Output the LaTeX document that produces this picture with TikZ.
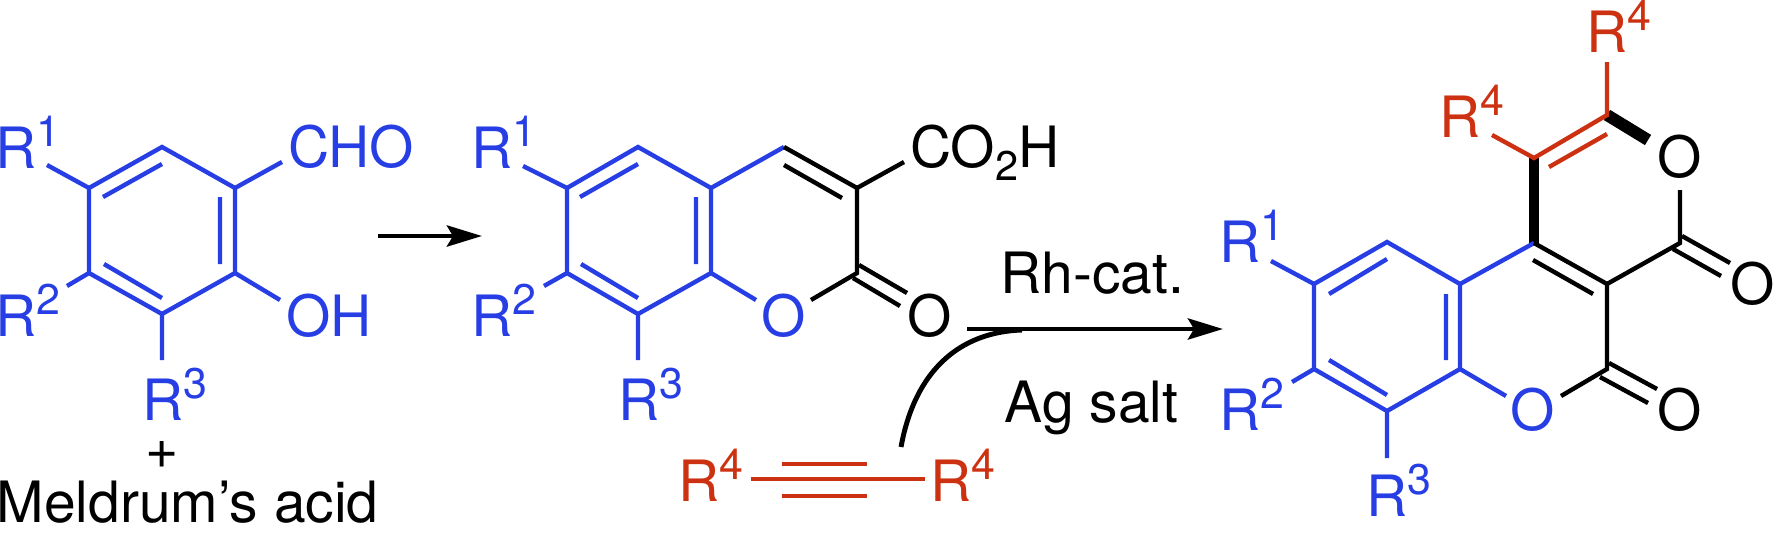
\documentclass[tikz,border=0pt]{standalone}
\usepackage{fontspec}
\setmainfont{TeX Gyre Heros}
\usetikzlibrary{arrows.meta}
\definecolor{ringblue}{RGB}{38,62,228}
\definecolor{alkynered}{RGB}{204,50,18}
\newcommand{\Rsub}[1]{R\raisebox{6.2pt}{\fontsize{12.2}{12}\selectfont #1}}
\tikzset{
	atom/.style = {anchor=base west, inner sep=0pt, font=\fontsize{16.2}{18}\selectfont},
	atomc/.style = {atom, anchor=base},
	bond/.style = {line width=1.25pt, line join=miter},
	rxn/.style = {line width=1.4pt, -{Stealth[length=3.5mm, width=2.1mm, inset=.6mm]}},
}
\begin{document}
\begin{tikzpicture}[x=0.01cm, y=-0.01cm]
		\useasboundingbox (0, 0) rectangle (1774, 533);
		\coordinate (a1) at (162, 147); \coordinate (a2) at (235, 188);
		\coordinate (a3) at (235, 273); \coordinate (a4) at (162, 314);
		\coordinate (a5) at (89, 273);  \coordinate (a6) at (89, 188);
		\coordinate (ar1) at (47, 165);  \coordinate (ar2) at (67, 286);
		\coordinate (ar3) at (162, 360); \coordinate (acho) at (282, 162);
		\coordinate (aoh) at (280, 300);
		\coordinate (ai1) at (103, 197); \coordinate (ai2) at (162, 164);
		\coordinate (ai3) at (220, 197); \coordinate (ai4) at (220, 264);
		\coordinate (ai5) at (104, 264); \coordinate (ai6) at (162, 298);
		\begin{scope}[ringblue]
			\draw[bond] (a1) -- (a2) -- (a3) -- (a4) -- (a5) -- (a6) -- cycle;
			\draw[bond] (a6) -- (ar1) (a5) -- (ar2) (a4) -- (ar3);
			\draw[bond] (a2) -- (acho) (a3) -- (aoh);
			\draw[bond] (ai1) -- (ai2) (ai3) -- (ai4) (ai5) -- (ai6);
			\node (aR1) [atom] at (-5, 168) {\Rsub{1}};
			\node (aR2) [atom] at (-5, 336) {\Rsub{2}};
			\node (aR3) [atom] at (142, 420) {\Rsub{3}};
			\node (aCHO) [atom] at (287.5, 167) {CHO};
			\node (aOH) [atom] at (285.5, 336) {OH};
		\end{scope}
		\node (plus) [atomc] at (162, 468) {+};
		\node (meldrum) [atom] at (-4, 522) {Meldrum’s acid};
		\coordinate (arrA) at (378, 236); \coordinate (arrB) at (482, 236);
		\draw[rxn] (arrA) -- (arrB);

		\coordinate (b1) at (638, 147); \coordinate (b2) at (711, 188);
		\coordinate (b3) at (711, 273); \coordinate (b4) at (638, 314);
		\coordinate (b5) at (567, 273); \coordinate (b6) at (567, 188);
		\coordinate (b7) at (784, 147); \coordinate (b8) at (857, 188);
		\coordinate (b9) at (857, 273);
		\coordinate (br1) at (523, 166); \coordinate (br2) at (544, 286);
		\coordinate (br3) at (638, 360); \coordinate (bo1) at (756, 300);
		\coordinate (bo2) at (811, 300); \coordinate (bco) at (904, 162);
		\coordinate (bi1) at (580, 197); \coordinate (bi2) at (638, 164);
		\coordinate (bi3) at (696, 197); \coordinate (bi4) at (696, 264);
		\coordinate (bi5) at (581, 264); \coordinate (bi6) at (638, 298);
		\coordinate (bi7) at (784, 165); \coordinate (bi8) at (842, 198);
		\coordinate (bd1) at (859, 265); \coordinate (bd2) at (907, 293);
		\coordinate (bd3) at (853, 278); \coordinate (bd4) at (900, 306);
		\begin{scope}[ringblue]
			\draw[bond] (b7) -- (b2) -- (b1) -- (b6) -- (b5) -- (b4) -- (b3) -- (b2);
			\draw[bond] (b6) -- (br1) (b5) -- (br2) (b4) -- (br3);
			\draw[bond] (b3) -- (bo1);
			\draw[bond] (bi1) -- (bi2) (bi3) -- (bi4) (bi5) -- (bi6);
			\node (bR1) [atom] at (471, 168) {\Rsub{1}};
			\node (bR2) [atom] at (471, 336) {\Rsub{2}};
			\node (bR3) [atom] at (618, 420) {\Rsub{3}};
			\node (bO1) [atomc] at (784, 336) {O};
		\end{scope}
		\draw[bond] (b7) -- (b8) -- (b9) -- (bo2);
		\draw[bond] (b8) -- (bco) (bi7) -- (bi8);
		\draw[bond] (bd1) -- (bd2) (bd3) -- (bd4);
		\node (bCO2H) [atom] at (909.5, 167) {CO\raisebox{-3.8pt}{\fontsize{11.8}{12}\selectfont 2}H};
		\node (bO2) [atom] at (906.5, 336) {O};

		\begin{scope}[alkynered]
			\node (dR1) [atom] at (678, 501) {\Rsub{4}};
			\node (dR2) [atom] at (930, 501) {\Rsub{4}};
			\coordinate (d1) at (751, 479); \coordinate (d2) at (925, 479);
			\coordinate (d3) at (782, 464); \coordinate (d4) at (867, 464);
			\coordinate (d5) at (782, 496); \coordinate (d6) at (867, 496);
			\draw[bond] (d1) -- (d2) (d3) -- (d4) (d5) -- (d6);
		\end{scope}
		\coordinate (arrC) at (967, 329); \coordinate (arrD) at (1223, 329);
		\coordinate (arrE) at (901, 447); \coordinate (arrF) at (1022, 330);
		\draw[rxn] (arrC) -- (arrD);
		\draw[rxn, -] (arrE) .. controls (915, 370) and (960, 332) .. (arrF);
		\node (rh) [atom] at (1000, 293) {Rh-cat.};
		\node (ag) [atom] at (1004, 422) {Ag salt};

		\coordinate (c1) at (1387, 242); \coordinate (c2) at (1460, 284);
		\coordinate (c3) at (1460, 369); \coordinate (c4) at (1387, 411);
		\coordinate (c5) at (1314, 369); \coordinate (c6) at (1314, 284);
		\coordinate (c7) at (1534, 243); \coordinate (c8) at (1607, 284);
		\coordinate (c9) at (1607, 369); \coordinate (c10) at (1534, 158);
		\coordinate (c11) at (1607, 115); \coordinate (c12) at (1680, 243);
		\coordinate (cr1) at (1271, 261); \coordinate (cr2) at (1292, 382);
		\coordinate (cr3) at (1387, 458); \coordinate (cr4) at (1492, 135);
		\coordinate (cr5) at (1607, 62);
		\coordinate (co1) at (1506, 396); \coordinate (co2) at (1561, 396);
		\coordinate (co3) at (1680, 190); \coordinate (co4) at (1648, 140);
		\coordinate (ci1) at (1329, 294); \coordinate (ci2) at (1387, 259);
		\coordinate (ci3) at (1446, 294); \coordinate (ci4) at (1446, 360);
		\coordinate (ci5) at (1329, 360); \coordinate (ci6) at (1387, 395);
		\coordinate (ci7) at (1533, 260); \coordinate (ci8) at (1593, 294);
		\coordinate (ci9) at (1549, 167); \coordinate (ci10) at (1607, 134);
		\coordinate (cd1) at (1609, 363); \coordinate (cd2) at (1657, 389);
		\coordinate (cd3) at (1600, 377); \coordinate (cd4) at (1648, 403);
		\coordinate (cd5) at (1682, 236); \coordinate (cd6) at (1730, 263);
		\coordinate (cd7) at (1673, 249); \coordinate (cd8) at (1721, 276);
		\draw[line width=2.9pt] (c7) -- (c10);
		\draw[line width=3.4pt] (c11) -- (co4);
		\begin{scope}[ringblue]
			\draw[bond] (c7) -- (c2) -- (c1) -- (c6) -- (c5) -- (c4) -- (c3) -- (c2);
			\draw[bond] (c6) -- (cr1) (c5) -- (cr2) (c4) -- (cr3);
			\draw[bond] (c3) -- (co1);
			\draw[bond] (ci1) -- (ci2) (ci3) -- (ci4) (ci5) -- (ci6);
			\node (cR1) [atom] at (1219, 262) {\Rsub{1}};
			\node (cR2) [atom] at (1219, 430) {\Rsub{2}};
			\node (cR3) [atom] at (1366, 516) {\Rsub{3}};
			\node (cO1) [atomc] at (1533, 430) {O};
		\end{scope}
		\draw[bond] (c7) -- (c8) -- (c9) -- (co2);
		\draw[bond] (c8) -- (c12) -- (co3) (ci7) -- (ci8);
		\draw[bond] (cd1) -- (cd2) (cd3) -- (cd4) (cd5) -- (cd6) (cd7) -- (cd8);
		\node (cO2) [atomc] at (1680, 430) {O};
		\node (cO3) [atomc] at (1753, 304) {O};
		\node (cO4) [atomc] at (1680, 177) {O};
		\begin{scope}[alkynered]
			\draw[bond] (cr4) -- (c10) -- (c11) -- (cr5) (ci9) -- (ci10);
			\node (cR4) [atom] at (1439, 137) {\Rsub{4}};
			\node (cR5) [atom] at (1586, 52) {\Rsub{4}};
		\end{scope}
	\end{tikzpicture}
\end{document}
